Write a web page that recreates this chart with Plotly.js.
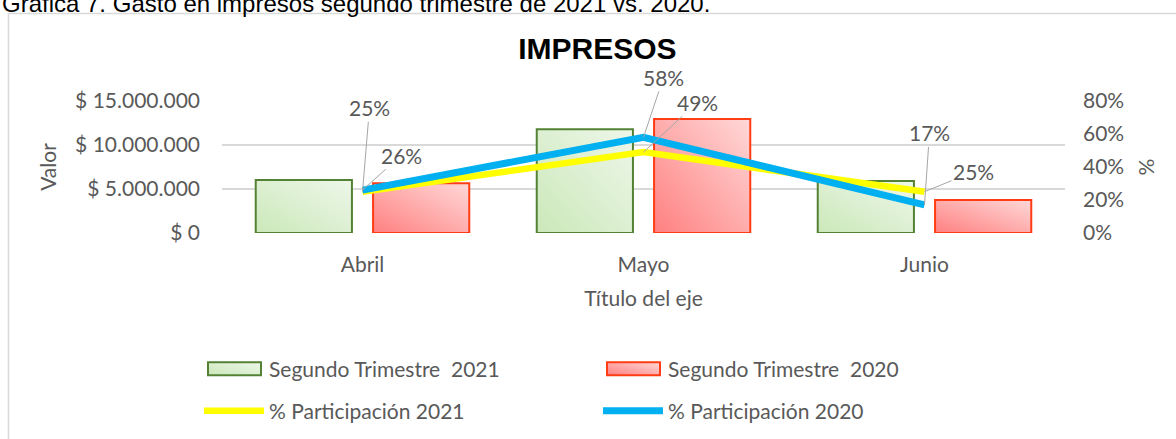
<!DOCTYPE html>
<html>
<head>
<meta charset="utf-8">
<script src="https://cdn.plot.ly/plotly-3.0.1.min.js"></script>
<style>html,body{margin:0;padding:0;background:#fff;}#chart{width:1176px;height:439px;}</style>
</head>
<body>
<div id="chart"></div>
<script>
// ---- data ----
const categories = ["Abril", "Mayo", "Junio"];
const gasto2021 = [6020000, 11800000, 5900000];
const gasto2020 = [5650000, 12950000, 3750000];
const part2021 = [0.25, 0.49, 0.25];
const part2020 = [0.26, 0.58, 0.17];
const seriesNames = ["Segundo Trimestre  2021", "Segundo Trimestre  2020", "% Participación 2021", "% Participación 2020"];
const chartTitle = "IMPRESOS";
const caption = "Gráfica 7. Gasto en impresos segundo trimestre de 2021 vs. 2020.";

// label offsets (px) for data labels of the % lines
const off2021 = [[7, -84], [54, -50], [49, -20]];
const off2020 = [[39, -35], [20, -60], [5, -72]];

const FONT = "Lato, 'Open Sans', sans-serif";
const GRAY = "#595959";
const FS = 21;

const traces = [
  {type: "bar", name: seriesNames[0], x: categories, y: gasto2021,
   marker: {color: "#dcf0d0", line: {color: "#548235", width: 2}}, legend: "legend"},
  {type: "bar", name: seriesNames[1], x: categories, y: gasto2020,
   marker: {color: "#ffb0b0", line: {color: "#ff3c14", width: 2}}, legend: "legend"},
  {type: "scatter", mode: "lines", name: seriesNames[2], x: categories, y: part2021, yaxis: "y2",
   line: {color: "#ffff00", width: 6.5}, legend: "legend2"},
  {type: "scatter", mode: "lines", name: seriesNames[3], x: categories, y: part2020, yaxis: "y2",
   line: {color: "#00b0f0", width: 7}, legend: "legend2"}
];

const annotations = [];
function addLabels(vals, offs) {
  vals.forEach((v, i) => {
    annotations.push({
      xref: "x", yref: "y2", x: categories[i], y: v,
      text: Math.round(v * 100) + "%",
      showarrow: true, arrowhead: 0, arrowwidth: 1, arrowcolor: "#a6a6a6", standoff: 0,
      ax: offs[i][0], ay: offs[i][1],
      font: {family: FONT, size: FS, color: GRAY}
    });
  });
}
addLabels(part2021, off2021);
addLabels(part2020, off2020);
annotations.push({
  xref: "paper", yref: "paper", x: -0.2633, y: 1.742, xanchor: "left", yanchor: "middle",
  text: caption, showarrow: false,
  font: {family: "'Liberation Sans', Arial, sans-serif", size: 24, color: "#000"}
});

const legendBase = {orientation: "h", x: 0.1692, xref: "container", xanchor: "left",
  yref: "container", yanchor: "middle",
  entrywidth: 324, entrywidthmode: "pixels", itemwidth: 60, font: {size: FS, color: GRAY},
  bgcolor: "rgba(0,0,0,0)", traceorder: "normal"};

const layout = {
  width: 1176, height: 439,
  margin: {l: 222, r: 111, t: 101, b: 206, autoexpand: false},
  paper_bgcolor: "#fff", plot_bgcolor: "#fff",
  separators: ",.",
  font: {family: FONT, size: FS, color: GRAY},
  title: {text: "<b>" + chartTitle + "</b>", x: 0.508, xref: "container", y: 0.89, yref: "container",
          xanchor: "center", yanchor: "middle",
          font: {family: "'Liberation Sans', Arial, sans-serif", size: 30, color: "#000"}},
  barmode: "group", bargap: 0.165, bargroupgap: 0.18,
  xaxis: {type: "category", range: [-0.5, 2.5], showgrid: false, zeroline: false, showline: false,
          ticks: "", ticklabelstandoff: 17, tickfont: {size: FS, color: GRAY},
          title: {text: "Título del eje", standoff: 16, font: {size: FS, color: GRAY}}},
  yaxis: {range: [0, 15000000], dtick: 5000000, tickformat: ",.0f", tickprefix: "$ ",
          showgrid: true, gridcolor: "#d9d9d9", gridwidth: 1.5, zeroline: false, showline: false,
          ticks: "", ticklabelstandoff: 21, tickfont: {size: FS, color: GRAY},
          title: {text: "Valor", standoff: 12, font: {size: FS, color: GRAY}}},
  yaxis2: {range: [0, 0.8], dtick: 0.2, tickformat: ".0%", overlaying: "y", side: "right",
           showgrid: false, zeroline: false, showline: false, ticks: "", ticklabelstandoff: 17,
           tickfont: {size: FS, color: GRAY},
           title: {text: "%", standoff: 16, font: {size: FS, color: GRAY}}},
  legend: Object.assign({}, legendBase, {y: 0.1595}),
  legend2: Object.assign({}, legendBase, {y: 0.0638}),
  shapes: [{type: "rect", xref: "paper", yref: "paper", x0: -0.2533, x1: 1.3, y0: -2.5, y1: 1.663,
            line: {color: "#d9d9d9", width: 1.5}, fillcolor: "rgba(0,0,0,0)", layer: "below"}],
  annotations: annotations,
  showlegend: true
};

function addGradient(svg, id, c0, c1) {
  const NS = "http://www.w3.org/2000/svg";
  let defs = svg.querySelector("defs");
  if (!defs) { defs = document.createElementNS(NS, "defs"); svg.insertBefore(defs, svg.firstChild); }
  const g = document.createElementNS(NS, "linearGradient");
  g.setAttribute("id", id);
  g.setAttribute("x1", "0"); g.setAttribute("y1", "1"); g.setAttribute("x2", "1"); g.setAttribute("y2", "0");
  [[0, c0], [1, c1]].forEach(([o, c]) => {
    const s = document.createElementNS(NS, "stop");
    s.setAttribute("offset", o); s.setAttribute("stop-color", c);
    g.appendChild(s);
  });
  defs.appendChild(g);
}

Plotly.newPlot("chart", traces, layout, {displayModeBar: false, staticPlot: true}).then(gd => {
  const svg = gd.querySelector(".main-svg");
  addGradient(svg, "gradGreen", "#cbe8b9", "#eef7ea");
  addGradient(svg, "gradRed", "#ff8080", "#ffd8d8");
  const fills = ["url(#gradGreen)", "url(#gradRed)"];
  gd.querySelectorAll(".barlayer .trace.bars").forEach((t, i) => {
    t.querySelectorAll("path").forEach(p => { p.style.fill = fills[i]; });
  });
  // widen legend symbols like the original
  let bi = 0;
  gd.querySelectorAll(".legend .traces").forEach(tr => {
    const bar = tr.querySelector(".legendpoints path");
    const line = tr.querySelector(".legendlines path");
    if (line) {
      line.setAttribute("d", "M12,0h50");
      line.style.strokeLinecap = "round";
      line.style.strokeWidth = "7.5px";
    } else if (bar) {
      bar.setAttribute("d", "M9,-6.5h53v13h-53Z");
      bar.removeAttribute("transform");
      bar.style.fill = fills[bi % 2];
      bi++;
    }
  });
});
</script>
</body>
</html>
